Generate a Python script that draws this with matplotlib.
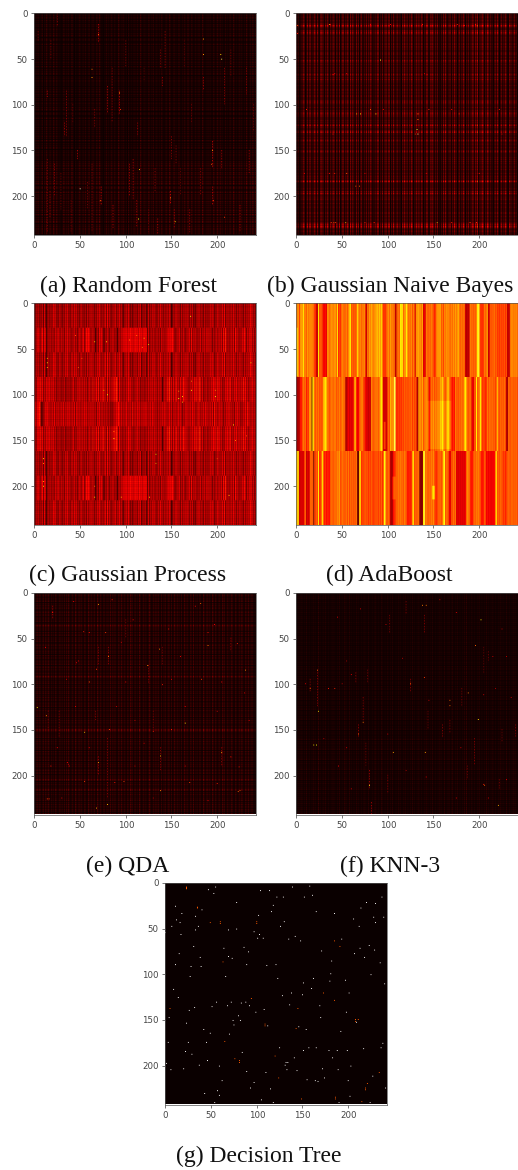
import numpy as np
import matplotlib
matplotlib.use("Agg")
import matplotlib.pyplot as plt

N = 243
TICKS = [0, 50, 100, 150, 200]

# (a) Random Forest
rf_cols = ("212131112302142113211421321" "120113212131114210211132112" "213112302132113214211102131"
           "211321131114212132112031121" "131213114211312113212140213" "112132111321142112312113211"
           "213211421132113121321142112" "131221132114212312113121132" "114212113213112142113214213")
rf_rows = ("537284619352748163925374861" "294713582647193528463719254" "836295174382961547283916452")
rf_bands = [(0, 81, 0.8), (81, 161, 0.85), (161, 243, 1.2)]
rf_streaks = [(4, 20, 30, .3), (14, 85, 92, .4), (35, 85, 135, .3), (33, 120, 135, .35), (47, 150, 160, .4),
              (63, 165, 240, .25), (73, 190, 210, .45), (70, 12, 32, .4), (80, 80, 110, .35), (85, 60, 120, .3),
              (93, 85, 110, .4), (104, 165, 200, .35), (108, 160, 205, .35), (112, 205, 235, .35),
              (113, 120, 135, .35), (143, 20, 60, .3), (132, 170, 195, .35), (149, 195, 210, .45),
              (140, 70, 80, .35), (135, 225, 243, .4), (153, 215, 235, .4), (170, 215, 240, .35),
              (185, 70, 85, .35), (182, 170, 200, .3), (195, 140, 170, .45), (195, 190, 210, .4),
              (208, 60, 100, .3), (205, 150, 170, .35), (225, 210, 240, .4), (235, 150, 175, .35),
              (232, 60, 90, .3), (14, 160, 240, .3), (17, 195, 225, .35), (22, 165, 200, .3),
              (86, 210, 235, .4), (138, 40, 60, .25), (100, 30, 60, .25), (155, 145, 165, .3),
              (18, 30, 50, .25), (25, 0, 15, .3), (42, 100, 120, .2), (66, 105, 125, .3), (120, 60, 75, .2),
              (150, 135, 160, .3), (164, 30, 60, .2), (172, 100, 120, .25), (215, 40, 70, .25), (240, 100, 130, .25),
              (58, 185, 215, .25), (29, 175, 215, .22), (40, 205, 240, .2), (125, 215, 240, .25), (160, 170, 200, .22)]
rf_spots = [(70, 23, .5), (63, 61, .55), (63, 70, .6), (185, 28, .6), (185, 45, .6), (204, 45, .7), (205, 50, .85),
            (93, 87, .6), (94, 105, .45), (50, 192, .95), (115, 171, .65), (114, 225, .75), (154, 228, .7),
            (149, 202, .55), (72, 205, .55), (195, 150, .55), (194, 165, .5), (196, 205, .45), (208, 223, .45)]

# (b) Gaussian Naive Bayes
nb_cols = ("513021427302614630427316204" "735205263051437205316024730" "526307163402715036204317052"
           "641305227503160427316504172" "306413205274163052740316507" "226403157302646315072030416"
           "273041630527340163052730416" "205274163902516730427506132" "045273016405273106350427130")
nb_rows = ("322232223223365322243543223" "232322332332322233322322352" "323223232322343232432322232"
           "223322322332223343322232232" "344333222323225523223462322" "232343223222322343222223232"
           "323222322322232233232463222" "222322435322323322232223222" "223322322232234546532233222")
nb_spots = [(92, 51, .78), (66, 110, .62), (70, 110, .72), (87, 110, .72), (133, 110, .55), (133, 116, .55),
            (132, 127, .8), (133, 132, .88), (81, 105, .5), (54, 229, .62), (154, 229, .62), (1, 13, .5),
            (36, 12, .55), (1, 22, .4), (65, 189, .5), (69, 189, .5), (178, 110, .45), (41, 229, .5),
            (42, 66, .35), (40, 67, .35), (55, 66, .35), (140, 66, .35), (143, 67, .35), (37, 12, .4), (176, 12, .4),
            (184, 13, .38), (196, 12, .38), (81, 12, .35), (103, 12, .35), (138, 12, .4), (222, 105, .4), (11, 105, .4),
            (40, 132, .38), (130, 132, .42), (225, 132, .35), (95, 105, .35), (145, 105, .42), (170, 105, .38),
            (36, 175, .38), (42, 175, .42), (55, 175, .5), (9, 175, .35), (75, 175, .35), (142, 175, .35), (200, 175, .4),
            (38, 229, .45), (43, 229, .45), (75, 229, .4), (85, 229, .4), (170, 229, .4), (190, 229, .45), (197, 229, .45)]

# (c) Gaussian Process, four column patterns shared by the nine 27-row blocks
gp_cols_low = ("425364253617303542634756342" "563425364735246537463524653" "435263547364253647526345728"
               "364253647254736403546374251" "436352647135264037253647352" "463745263546374025364735426"
               "354637452636241537463542634" "526374652437463547382546354" "637452634735426354637846352")
gp_cols_mid = ("324575436827603453625436456" "534635264736352546352465437" "725868736283403528476312536"
               "425364625304536475767576867" "576867586757686707245363526" "435264536275767686425364725"
               "364253647283546352637254635" "728364253463546372849536254" "637284635263748526374853624")
gp_cols_alt = ("453768930234657463546373546" "354637354647354637265463546" "374635463736352647354626354"
               "352415364758637263547354628" "354637463546374635463746354" "263546374635473625463547364"
               "253647354637463528463546374" "635463728463547364253647382" "635264736425364738463546352")
gp_cols_hi = ("332657483725365475364635243" "534243523435243562435463627" "263524635283547382637483528"
              "263537485962735243526374635" "243546352435243526354627354" "263540263548493627348536274"
              "485637243546374837495362436" "243536475638475362436475386" "253647354627384736253647352")
gp_rows = "658475968574869576847586957"
gp_blocks = [(gp_cols_low, .9), (gp_cols_mid, .95), (gp_cols_low, .95),
             (gp_cols_hi, 1.0), (gp_cols_alt, .98), (gp_cols_hi, 1.0),
             (gp_cols_low, .92), (gp_cols_mid, .95), (gp_cols_low, .95)]
gp_spots = [(171, 14, .75), (14, 65, .72), (66, 42, .7), (79, 42, .7), (158, 104, .75), (162, 102, .7),
            (172, 95, .72), (198, 102, .75), (218, 133, .75), (87, 148, .7), (10, 170, .72), (10, 200, .72),
            (133, 165, .7), (66, 212, .7), (95, 212, .65), (126, 212, .65), (237, 65, .7), (213, 210, .68),
            (125, 45, .65), (120, 38, .65), (80, 100, .72), (76, 95, .65), (14, 60, .65), (14, 70, .65),
            (104, 40, .55), (112, 35, .55), (118, 48, .55), (158, 96, .6), (162, 108, .6), (198, 95, .55),
            (87, 140, .55), (172, 85, .55), (10, 195, .6), (10, 175, .6), (133, 175, .6), (66, 200, .55),
            (220, 150, .55), (232, 145, .5), (45, 35, .5), (48, 70, .5), (52, 60, .5), (200, 170, .5)]

# (d) AdaBoost, column stripes of the three large blocks as (first column, level)
ab_top = [(0, .58), (3, .44), (4, .58), (8, .7), (9, .55), (20, .44), (22, .27), (24, .66), (25, .5), (29, .35),
          (34, .56), (45, .7), (46, .44), (49, .52), (58, .7), (60, .5), (67, .7), (68, .55), (76, .29),
          (78, .55), (80, .58), (88, .62), (95, .44), (99, .55), (108, .27), (110, .52), (114, .7), (117, .55),
          (120, .7), (122, .52), (130, .29), (131, .58), (139, .32), (142, .52), (150, .44), (153, .58), (159, .5),
          (162, .55), (177, .72), (178, .52), (185, .27), (190, .52), (198, .72), (201, .44), (206, .55), (210, .29),
          (212, .5), (219, .46), (231, .27), (234, .55)]
ab_mid = [(0, .24), (4, .39), (7, .52), (11, .44), (14, .58), (17, .14), (18, .7), (20, .5), (30, .66), (34, .52),
          (54, .24), (56, .32), (63, .5), (64, .62), (66, .34), (69, .5), (71, .58), (73, .47), (75, .34), (77, .3),
          (82, .52), (92, .66), (95, .3), (100, .5), (103, .58), (107, .76), (109, .44), (116, .48), (132, .24),
          (134, .58), (139, .5), (141, .55), (145, .35), (147, .5), (152, .52), (158, .62), (162, .5), (165, .62),
          (168, .5), (170, .4), (174, .5), (179, .52), (184, .66), (187, .5), (192, .34), (195, .5), (197, .7),
          (198, .5), (201, .7), (203, .45), (209, .5), (212, .52), (216, .48), (220, .66), (221, .5), (230, .24),
          (232, .5)]
ab_bot = [(0, .68), (3, .3), (9, .5), (11, .3), (15, .5), (19, .16), (20, .47), (24, .68), (25, .45), (28, .68),
          (30, .4), (37, .5), (44, .56), (48, .5), (67, .14), (69, .66), (71, .47), (95, .45), (96, .74), (98, .5),
          (103, .24), (106, .4), (109, .52), (121, .4), (127, .66), (129, .5), (135, .19), (139, .74), (141, .52),
          (152, .45), (155, .5), (161, .74), (163, .5), (167, .35), (170, .5), (175, .32), (186, .55), (190, .4),
          (194, .52), (202, .4), (206, .5), (208, .35), (218, .62), (220, .5), (226, .44), (231, .5)]
# fine stripes laid over the wide ones
ab_fine = ("528163947251836492715384926" "173849265138472961538247916" "482917365182947361528493716"
           "385162947283915472638194527" "916283745192836475918263749" "251738492617384925163847291"
           "638492517283946175283649172" "849162537491826375149283617" "482936175382917465283917462")
ab_patches = [(144, 170, 107, 160, .05), (0, 2, 27, 80, .1), (96, 98, 130, 160, .15), (149, 152, 200, 215, .15),
              (105, 109, 190, 215, .08)]

# (e) QDA
qda_cols = ("212321411231321421131213211" "231221313142112311421231321" "132114213212311421321132122"
            "214123132113214212311321423" "113212142113213112421132141" "231131214112321311421231213"
            "114213211321412131132114212" "321311421321132114231132121" "421132113214211321412132111")
qda_rows = ("322423142341324233412342341" "324234123643242314234132423" "412342341324231423413242341"
            "342341324236423142341324231" "423413242341324234132423142" "341324234132423664231423413"
            "242341324231423413242341324" "234123423413242364132423142" "641324231423413242341342314")
qda_bands = [(0, 243, 1.0)]
qda_streaks = [(80, 160, 225, .3), (67, 130, 140, .3), (27, 130, 160, .28), (70, 60, 80, .3), (81, 60, 80, .35),
               (70, 180, 200, .35), (138, 170, 195, .3), (140, 60, 80, .25), (205, 170, 190, .35), (20, 15, 30, .35),
               (15, 130, 150, .3), (130, 130, 150, .3), (215, 50, 65, .3), (100, 30, 50, .25), (125, 80, 100, .3)]
qda_spots = [(3, 126, .7), (13, 135, .58), (70, 13, .6), (165, 143, .7), (138, 179, .62), (205, 175, .6),
             (70, 186, .6), (81, 70, .55), (68, 236, .6), (80, 232, .65), (138, 217, .55), (55, 153, .65),
             (124, 80, .55), (137, 62, .55), (231, 85, .55), (190, 58, .55), (183, 95, .45), (60, 98, .5),
             (37, 188, .35), (38, 190, .35), (36, 186, .35), (224, 191, .4), (223, 218, .5), (225, 217, .5),
             (222, 56, .4), (48, 75, .3), (46, 77, .3), (14, 226, .45), (16, 226, .45), (182, 12, .5), (68, 84, .45),
             (20, 22, .4), (43, 10, .35), (85, 8, .4), (108, 30, .35), (147, 40, .4), (176, 15, .35), (197, 35, .35),
             (54, 43, .4), (60, 44, .4), (78, 44, .45), (190, 44, .4), (12, 60, .35), (95, 55, .3), (160, 70, .35),
             (35, 95, .3), (100, 98, .35), (140, 101, .4), (150, 95, .35), (205, 98, .35), (230, 110, .3),
             (45, 125, .35), (90, 125, .3), (165, 125, .35), (200, 130, .3), (110, 140, .3), (235, 140, .3),
             (82, 150, .45), (130, 152, .4), (150, 150, .4), (25, 170, .35), (60, 170, .3), (120, 165, .3),
             (18, 190, .4), (110, 190, .3), (165, 190, .3), (215, 180, .4), (55, 207, .45), (88, 208, .4),
             (98, 207, .45), (170, 208, .45), (200, 209, .4), (30, 225, .35), (130, 225, .3), (190, 228, .35)]

# (f) KNN-3
knn_cols = ("112121311213112112131211412" "112213112112131211213112114" "121131211211312112113121131"
            "112113211211321121131121311" "121131211213112112131211213" "112112131211213112112131211"
            "311213112311213112112131411" "211311211213112112131211213" "112112131212113112112131211")
knn_rows = ("423142341324231423413242314" "234132423142341324231423413" "242314234132423142341324231"
            "423413242314234132423142341" "324231423413242314234132423" "142341324231423413242314234"
            "132423142341324231423413242" "314234132423142341324231423" "413242314234132423142341324")
knn_bands = [(0, 81, .85), (81, 161, .95), (161, 243, 1.1)]
knn_streaks = [(15, 95, 110, .3), (23, 85, 125, .3), (65, 88, 100, .28), (68, 145, 160, .32), (73, 115, 145, .28),
               (78, 85, 100, .25), (76, 165, 190, .25), (80, 195, 215, .35), (82, 230, 243, .38), (100, 200, 220, .3),
               (102, 25, 45, .25), (125, 95, 110, .3), (144, 130, 150, .25), (160, 145, 160, .3), (168, 140, 155, .25),
               (181, 105, 125, .25), (195, 160, 190, .3), (222, 205, 215, .25), (140, 25, 45, .3), (205, 60, 90, .2),
               (210, 65, 75, .25), (240, 145, 160, .3), (225, 150, 165, .25), (187, 190, 205, .25), (120, 10, 25, .25)]
knn_spots = [(19, 167, .72), (22, 167, .72), (24, 130, .7), (202, 30, .72), (199, 139, .72), (80, 211, .78),
             (106, 175, .62), (141, 175, .62), (168, 118, .52), (168, 124, .52), (188, 110, .55), (142, 14, .55),
             (138, 14, .55), (221, 233, .62), (73, 142, .55), (15, 105, .5), (23, 85, .5), (196, 58, .5),
             (206, 211, .5), (35, 105, .4), (42, 105, .42), (125, 100, .5), (68, 155, .5), (140, 93, .45),
             (70, 18, .3), (45, 27, .3), (98, 35, .28), (157, 8, .3), (175, 22, .3), (225, 40, .28), (55, 75, .25),
             (116, 72, .25), (215, 70, .3), (230, 70, .28), (10, 100, .3), (50, 100, .25), (60, 90, .35),
             (145, 118, .3), (205, 112, .3), (218, 105, .25), (235, 115, .28), (30, 160, .25), (55, 170, .3),
             (100, 155, .3), (180, 170, .3), (120, 195, .25), (46, 190, .35), (142, 202, .35), (230, 205, .35),
             (60, 215, .3), (175, 225, .28), (205, 210, .4), (210, 225, .3)]

# (g) Decision Tree, white cells and orange cells
dt_white = [(47, 8), (55, 5), (53, 12), (104, 9), (114, 9), (139, 5), (158, 4), (161, 14), (152, 16), (122, 16), (129, 16),
            (237, 16), (230, 23), (220, 22), (214, 28), (118, 25), (116, 32), (78, 22), (11, 26), (40, 30), (18, 34),
            (102, 36), (33, 37), (12, 41), (16, 44), (130, 43), (185, 34), (165, 32), (206, 40), (228, 38), (239, 38),
            (230, 44), (7, 48), (36, 48), (33, 52), (126, 48), (212, 48), (78, 51), (69, 52), (0, 55), (17, 57), (97, 54),
            (103, 57), (101, 61), (107, 61), (142, 59), (135, 62), (148, 64), (193, 62), (31, 70), (86, 71), (64, 72),
            (91, 76), (15, 78), (171, 75), (213, 72), (223, 69), (229, 74), (207, 78), (38, 82), (69, 81), (73, 83),
            (218, 82), (182, 86), (235, 88), (11, 90), (28, 92), (39, 92), (89, 90), (111, 91), (121, 90), (181, 100),
            (225, 101), (27, 103), (66, 103), (123, 105), (162, 105), (197, 107), (180, 108), (151, 110), (240, 111),
            (9, 117), (160, 116), (14, 126), (138, 121), (150, 123), (128, 124), (201, 121), (56, 131), (72, 131),
            (83, 132), (88, 131), (92, 135), (51, 136), (68, 135), (32, 137), (136, 134), (169, 135), (108, 139),
            (26, 140), (99, 142), (198, 142), (4, 148), (170, 148), (80, 146), (74, 151), (82, 151), (23, 154), (75, 156),
            (209, 153), (112, 157), (146, 158), (154, 161), (42, 161), (49, 165), (192, 163), (70, 166), (3, 175),
            (25, 175), (45, 175), (125, 181), (157, 181), (165, 181), (151, 184), (179, 184), (188, 184), (199, 184),
            (217, 182), (236, 181), (238, 176), (22, 185), (84, 186), (29, 188), (141, 192), (183, 192), (46, 195),
            (132, 197), (134, 197), (131, 200), (1, 198), (37, 200), (59, 201), (203, 201), (6, 205), (20, 204),
            (133, 205), (144, 206), (172, 204), (189, 205), (89, 207), (110, 208), (174, 214), (227, 212), (62, 217),
            (155, 216), (164, 217), (167, 218), (200, 217), (97, 219), (93, 225), (115, 226), (241, 225), (57, 228),
            (43, 231), (59, 233), (202, 234), (105, 238), (54, 241), (118, 241), (190, 241), (224, 241)]
dt_orange = [(23, 5), (23, 6), (23, 7), (95, 0), (35, 27), (35, 28), (49, 44), (60, 43), (60, 45), (100, 43), (100, 45),
             (185, 64), (191, 70), (63, 87), (173, 121), (94, 127), (185, 129), (5, 138), (145, 138), (208, 150), (208, 152),
             (211, 150), (109, 155), (109, 157), (143, 160), (65, 174), (120, 190), (76, 193), (81, 195), (81, 197),
             (234, 208), (124, 214), (221, 220), (219, 225), (219, 227), (149, 237), (186, 235), (186, 237), (215, 240)]

captions = ["(a) Random Forest", "(b) Gaussian Naive Bayes", "(c) Gaussian Process", "(d) AdaBoost",
            "(e) QDA", "(f) KNN-3", "(g) Decision Tree"]


def digits(text, n=N):
    return np.array([int(c) for c in text.ljust(n, "1")[:n]], dtype=float)


def sparse_image(col_text, row_text, bands, streaks, spots, gain, streak_gain=0.6):
    img = np.outer(digits(row_text) / 9, digits(col_text) / 9) * gain
    for start, stop, g in bands:
        img[start:stop] *= g
    # streaks are dotted, every third row shows
    for c, r0, r1, v in streaks:
        img[r0:r1:3, c] = np.maximum(img[r0:r1:3, c], v * streak_gain)
        img[r0 + 1:r1:3, c] = np.maximum(img[r0 + 1:r1:3, c], 0.4 * v * streak_gain)
    for c, r, v in spots:
        img[r, c] = v
    return img


def stripes(runs):
    line = np.zeros(N)
    for i, (start, level) in enumerate(runs):
        stop = runs[i + 1][0] if i + 1 < len(runs) else N
        line[start:stop] = level
    return line


def gp_image():
    grain = 0.8 + digits(gp_rows, 27) / 25
    blocks = []
    for col_text, g in gp_blocks:
        blocks.append(np.outer(grain, 0.09 + digits(col_text) * 0.034) * g)
    img = np.vstack(blocks)
    for c, r, v in gp_spots:
        img[r, c] = v
    return img


def ab_image():
    fine = 0.9 + digits(ab_fine) * 0.022
    img = np.zeros((N, N))
    for start, stop, runs in [(0, 81, ab_top), (81, 162, ab_mid), (162, N, ab_bot)]:
        img[start:stop] = stripes(runs) * fine
    for c0, c1, r0, r1, v in ab_patches:
        img[r0:r1, c0:c1] += v
    return img


def dt_image():
    img = np.zeros((N, N))
    for c, r in dt_white:
        img[r, c] = 1.0
    for c, r in dt_orange:
        img[r, c] = 0.5
    return img


images = [
    sparse_image(rf_cols, rf_rows * 3, rf_bands, rf_streaks, rf_spots, 0.3),
    sparse_image(nb_cols, nb_rows, [], [], nb_spots, 0.75),
    gp_image(),
    ab_image(),
    sparse_image(qda_cols, qda_rows, qda_bands, qda_streaks, qda_spots, 0.6),
    sparse_image(knn_cols, knn_rows, knn_bands, knn_streaks, knn_spots, 0.4),
    dt_image(),
]

W, H = 518, 1170
fig = plt.figure(figsize=(W / 100, H / 100), dpi=100)

# left edge, top edge of each axes and caption centre, all in pixels
boxes = [(34, 13, 128, 286), (296, 13, 390, 286), (34, 303, 128, 575), (296, 303, 389, 575),
         (34, 592.5, 128, 866), (296, 592.5, 390, 866), (165, 882.5, 259, 1156)]

for i, (img, caption, (left, top, cx, cy)) in enumerate(zip(images, captions, boxes)):
    ax = fig.add_axes([left / W, 1 - (top + 222) / H, 222 / W, 222 / H])
    ax.imshow(img, cmap="hot", vmin=0, vmax=1, aspect="auto",
              interpolation="antialiased" if i == 6 else "hanning")
    ax.set_xticks(TICKS)
    ax.set_yticks(TICKS)
    ax.tick_params(labelsize=6.2, length=2.5, width=0.5, pad=2, colors="#444444")
    for spine in ax.spines.values():
        spine.set_linewidth(0.5)
        spine.set_color("#555555")
    fig.text(cx / W, 1 - cy / H, caption, ha="center", va="center", fontsize=17,
             family="Liberation Serif", color="#111111")

fig.savefig("out.png", dpi=100)
